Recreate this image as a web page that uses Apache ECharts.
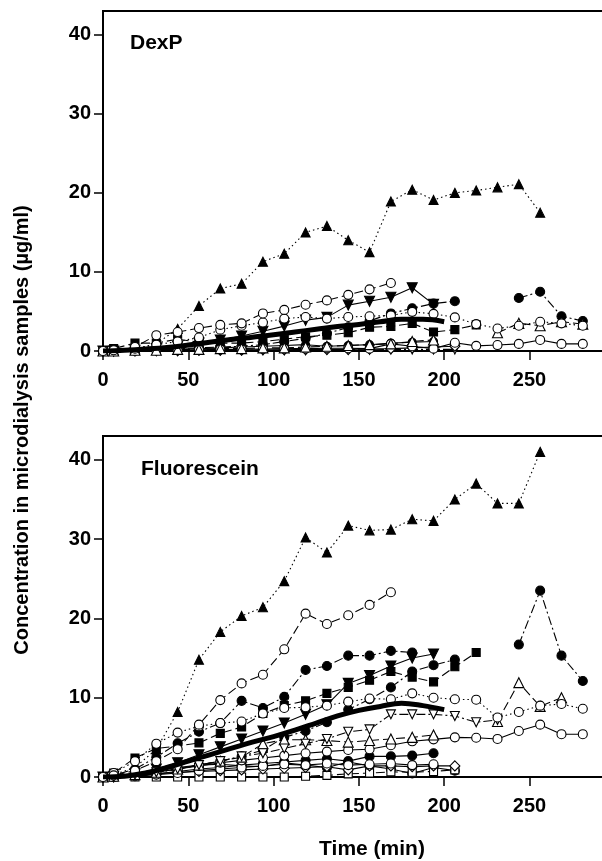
<!DOCTYPE html>
<html>
<head>
<meta charset="utf-8">
<script src="https://cdn.jsdelivr.net/npm/echarts@6/dist/echarts.min.js"></script>
<style>
html, body { margin: 0; padding: 0; background: #fff; }
#chart { width: 602px; height: 861px; }
</style>
</head>
<body>
<div id="chart"></div>
<script>
// sample times (min)
var times = [0, 6.25, 18.75, 31.25, 43.75, 56.25, 68.75, 81.25, 93.75, 106.25, 118.75, 131.25,
  143.75, 156.25, 168.75, 181.25, 193.75, 206.25, 218.75, 231.25, 243.75, 256.25, 268.75, 281.25]
var meanTimes = [0, 12.5, 25, 37.5, 50, 62.5, 75, 87.5, 100, 112.5, 125, 137.5, 150, 162.5, 175, 187.5, 200]
var xTicks = [0, 50, 100, 150, 200, 250]
var yTicks = [0, 10, 20, 30, 40]

// DexP panel
var dexTriUp = [0, 0.1, 0.3, 0.9, 2.8, 5.7, 7.9, 8.5, 11.3, 12.3, 15.0, 15.8, 14.0, 12.5, 18.9, 20.4, 19.1, 20.0, 20.3, 20.7, 21.1, 17.5, null, null]
var dexCircA = [0, 0.1, 0.5, 2.0, 2.4, 2.9, 3.3, 3.5, 4.75, 5.2, 5.85, 6.4, 7.1, 7.8, 8.6, null, null, null, null, null, null, null, null, null]
var dexCircB = [0, 0.1, 0.3, 0.8, 1.2, 1.7, 2.7, 3.2, 3.6, 4.1, 4.3, 4.1, 4.3, 4.4, 4.5, 4.95, 4.7, 4.25, 3.4, 2.85, 3.2, 3.7, 3.5, 3.2]
var dexTriDown = [0, 0, 0.1, 0.3, 0.6, 1.0, 1.4, 1.9, 2.5, 3.15, 3.9, 4.25, 5.8, 6.3, 6.8, 8.0, 5.9, null, null, null, null, null, null, null]
var dexSquare = [0, 0.3, 1.0, 1.0, 1.5, 1.1, 1.0, 1.0, 1.2, 1.5, 1.8, 2.0, 2.3, 3.0, 3.1, 3.5, 2.4, 2.7, 3.3, null, null, null, null, null]
var dexCircFilled = [0, 0, 0.1, 0.2, 0.3, 0.4, 0.5, 0.6, 0.8, 1.2, 1.6, 2.2, 3.0, 3.8, 4.75, 5.4, 6.0, 6.3, null, null, 6.7, 7.5, 4.4, 3.8]
var dexTriOpen = [0, 0, 0.1, 0.1, 0.2, 0.2, 0.3, 0.3, 0.4, 0.4, 0.5, 0.6, 0.7, 0.8, 0.9, 1.2, 1.4, null, null, 2.3, 3.5, 3.2, 3.7, 3.4]
var dexCircLow = [0, 0, 0.05, 0.1, 0.1, 0.15, 0.2, 0.2, 0.25, 0.3, 0.3, 0.35, 0.35, 0.3, 0.9, 0.6, 0.3, 1.05, 0.65, 0.75, 0.9, 1.4, 0.9, 0.9]
var dexDiamond = [0, 0, 0, 0.05, 0.05, 0.1, 0.1, 0.1, 0.15, 0.15, 0.2, 0.2, 0.2, 0.25, 0.3, 0.4, 0.5, 0.6, null, null, null, null, null, null]
var dexTriDownOpen = [0, 0, 0, 0, 0, 0.05, 0.05, 0.1, 0.1, 0.1, 0.1, 0.15, 0.15, 0.15, 0.2, 0.2, 0.2, 0.2, null, null, null, null, null, null]
var dexCircFilledLow = [0, 0, 0.05, 0.1, 0.2, 0.3, 0.4, 0.5, 0.6, 0.7, 0.8, 0.6, 0.7, 0.8, 1.0, 1.1, 1.2, null, null, null, null, null, null, null]
var dexMean = [0, 0.1, 0.25, 0.45, 0.75, 1.1, 1.45, 1.75, 2.05, 2.4, 2.75, 3.1, 3.35, 3.7, 4.0, 4.0, 3.7]

// Fluorescein panel
var fluTriUp = [0, 0.3, 1.2, 3.5, 8.2, 14.8, 18.3, 20.3, 21.4, 24.7, 30.2, 28.3, 31.7, 31.1, 31.2, 32.5, 32.3, 35.0, 37.0, 34.5, 34.5, 41.0, null, null]
var fluCircA = [0, 0.2, 0.8, 2.0, 3.5, 6.6, 9.7, 11.8, 12.9, 16.1, 20.6, 19.3, 20.4, 21.7, 23.3, null, null, null, null, null, null, null, null, null]
var fluCircB = [0, 0.5, 2.0, 4.2, 5.6, 6.4, 6.8, 7.0, 8.0, 8.7, 8.8, 9.0, 9.5, 9.9, 9.8, 10.55, 10.0, 9.8, 9.75, 7.5, 8.2, 9.0, 9.2, 8.6]
var fluCircFilledA = [0, 0.2, 1.0, 2.5, 4.25, 5.7, 6.8, 9.6, 8.7, 10.1, 13.5, 14.0, 15.3, 15.3, 15.9, 15.7, null, null, null, null, null, null, null, null]
var fluTriDown = [0, 0.1, 0.4, 1.0, 1.8, 2.8, 3.8, 4.8, 5.8, 6.8, 7.9, 9.1, 11.8, 12.8, 14.0, 15.0, 15.5, null, null, null, null, null, null, null]
var fluSquare = [0, 0.5, 2.4, 3.6, 3.9, 4.3, 5.5, 6.3, 8.0, 9.0, 9.6, 10.55, 11.3, 12.2, 13.3, 12.6, 12.0, 13.9, 15.7, null, null, null, null, null]
var fluCircFilledB = [0, 0.1, 0.3, 0.6, 1.0, 1.5, 2.0, 2.6, 3.4, 5.0, 5.8, 6.9, 8.5, 9.8, 11.3, 13.3, 14.1, 14.8, null, null, 16.7, 23.5, 15.3, 12.1]
var fluTriDownOpen = [0, 0, 0.3, 0.6, 1.0, 1.5, 2.0, 2.6, 3.0, 3.6, 4.2, 4.8, 5.7, 6.0, 7.9, 7.9, 7.9, 7.7, 6.9, 7.2, null, null, null, null]
var fluTriOpen = [0, 0.1, 0.3, 0.6, 1.0, 1.5, 2.0, 2.5, 4.2, 4.7, 4.7, 4.6, 4.4, 4.6, 4.8, 5.0, 5.3, null, null, 7.0, 11.9, 8.9, 10.0, null]
var fluCircLow = [0, 0, 0.3, 0.6, 1.0, 1.4, 1.8, 2.1, 2.4, 2.7, 3.0, 3.2, 3.4, 3.5, 4.0, 4.5, 4.75, 5.0, 4.95, 4.8, 5.8, 6.6, 5.4, 5.4]
var fluCircFilledLow1 = [0, 0, 0.2, 0.4, 0.7, 1.0, 1.2, 1.5, 1.7, 1.9, 2.1, 2.3, 2.0, 2.6, 2.6, 2.7, 3.0, null, null, null, null, null, null, null]
var fluCircFilledLow2 = [0, 0, 0.3, 0.8, 1.2, 1.5, 1.6, 1.4, 1.3, 1.8, 1.5, 1.2, 1.9, 1.4, 1.0, 0.45, 1.2, 0.8, null, null, null, null, null, null]
var fluDiamond = [0, 0, 0.2, 0.4, 0.6, 0.7, 0.8, 0.9, 1.0, 1.1, 1.2, 1.3, 0.9, 1.4, 1.4, 1.3, 1.4, 1.4, null, null, null, null, null, null]
var fluSquareOpen = [0, 0, 0, 0, 0, 0, 0, 0, 0, 0, 0.1, 0.2, 0.4, 0.5, 0.65, 0.6, 0.7, 0.9, null, null, null, null, null, null]
var fluCircOpenLow = [0, 0, 0.1, 0.3, 0.5, 0.8, 1.0, 1.2, 1.4, 1.6, 1.5, 1.7, 1.5, 1.6, 1.7, 1.5, 1.6, null, null, null, null, null, null, null]
var fluMean = [0, 0.1, 0.5, 1.2, 2.0, 2.8, 3.6, 4.4, 5.1, 5.9, 6.8, 7.7, 8.4, 8.9, 9.3, 9.0, 8.5]

var xMax = 292.5, yMax = 43
var triDown = "path://M0,0 L10,0 L5,9 Z"
var DOT = [1.5, 3], DASH = [9, 4], DASHDOT = [9, 3, 2, 3]

function pts(xs, ys) {
  return xs.map(function (x, i) { return [x, ys[i]] })
}

function line(values, grid, symbol, open, dash, size) {
  return {
    type: "line",
    xAxisIndex: grid,
    yAxisIndex: grid,
    data: pts(times, values),
    symbol: symbol,
    symbolSize: size || 8,
    connectNulls: false,
    clip: false,
    itemStyle: { color: open ? "#fff" : "#000", borderColor: "#000", borderWidth: 1.1 },
    lineStyle: { color: "#000", width: 1.1, type: dash },
    emphasis: { disabled: true },
    z: open ? 3 : 2,
  }
}

function meanLine(values, grid) {
  return {
    type: "line",
    xAxisIndex: grid,
    yAxisIndex: grid,
    data: pts(meanTimes, values),
    symbol: "none",
    smooth: 0.4,
    lineStyle: { color: "#000", width: 5 },
    emphasis: { disabled: true },
    z: 4,
  }
}

var series = [
  line(dexCircFilledLow, 0, "circle", false, "solid"),
  line(dexTriDownOpen, 0, triDown, true, DASHDOT, 9),
  line(dexDiamond, 0, "diamond", true, "solid", 10),
  line(dexCircLow, 0, "circle", true, "solid", 9),
  line(dexTriOpen, 0, "triangle", true, DASH, 10),
  line(dexSquare, 0, "rect", false, DASH, 8),
  line(dexTriDown, 0, triDown, false, "solid", 10),
  line(dexCircFilled, 0, "circle", false, DASHDOT, 9),
  line(dexCircB, 0, "circle", true, DOT, 9),
  line(dexCircA, 0, "circle", true, DASH, 9),
  line(dexTriUp, 0, "triangle", false, DOT, 9),
  meanLine(dexMean, 0),

  line(fluSquareOpen, 1, "rect", true, DASH, 8),
  line(fluDiamond, 1, "diamond", true, "solid", 10),
  line(fluCircOpenLow, 1, "circle", true, "solid", 9),
  line(fluCircFilledLow2, 1, "circle", false, "solid", 9),
  line(fluCircFilledLow1, 1, "circle", false, "solid", 9),
  line(fluCircLow, 1, "circle", true, "solid", 9),
  line(fluTriOpen, 1, "triangle", true, DASH, 10),
  line(fluTriDownOpen, 1, triDown, true, DASHDOT, 9),
  line(fluCircFilledB, 1, "circle", false, DASHDOT, 9),
  line(fluSquare, 1, "rect", false, DASH, 8),
  line(fluTriDown, 1, triDown, false, "solid", 10),
  line(fluCircFilledA, 1, "circle", false, DASHDOT, 9),
  line(fluCircB, 1, "circle", true, DOT, 9),
  line(fluCircA, 1, "circle", true, DASH, 9),
  line(fluTriUp, 1, "triangle", false, DOT, 9),
  meanLine(fluMean, 1),
]

var labelFont = { color: "#000", fontFamily: "Arial", fontWeight: "bold", fontSize: 20 }

function xAxisFor(grid) {
  return {
    type: "value", gridIndex: grid, min: 0, max: xMax, interval: 50,
    axisLine: { show: true, onZero: false, lineStyle: { color: "#000", width: 2 } },
    axisTick: { show: true, inside: false, length: 9, customValues: xTicks,
      lineStyle: { color: "#000", width: 1.5 } },
    axisLabel: Object.assign({ margin: 19, customValues: xTicks }, labelFont),
    splitLine: { show: false },
  }
}

function yAxisFor(grid) {
  return {
    type: "value", gridIndex: grid, min: 0, max: yMax, interval: 10,
    axisLine: { show: true, lineStyle: { color: "#000", width: 2 } },
    axisTick: { show: true, inside: false, length: 9, customValues: yTicks,
      lineStyle: { color: "#000", width: 1.5 } },
    axisLabel: Object.assign({ margin: 12, customValues: yTicks }, labelFont),
    splitLine: { show: false },
  }
}

var myChart = echarts.init(document.getElementById("chart"))
myChart.setOption({
  animation: false,
  backgroundColor: "#fff",
  grid: [
    { left: 103, top: 11, width: 499, height: 340 },
    { left: 103, top: 436, width: 499, height: 341 },
  ],
  xAxis: [xAxisFor(0), xAxisFor(1)],
  yAxis: [yAxisFor(0), yAxisFor(1)],
  series: series,
})

// top frame line of each panel, placed from the axis scales
var frames = [0, 1].map(function (g) {
  var a = myChart.convertToPixel({ gridIndex: g }, [0, yMax])
  var b = myChart.convertToPixel({ gridIndex: g }, [xMax, yMax])
  return { type: "line", shape: { x1: a[0] - 1, y1: a[1], x2: b[0], y2: b[1] },
    style: { stroke: "#000", lineWidth: 2 }, z: 10 }
})

myChart.setOption({
  graphic: frames.concat([
    { type: "text", left: 130, top: 33, style: { text: "DexP", fill: "#000", font: "bold 21px Arial" } },
    { type: "text", left: 141, top: 459, style: { text: "Fluorescein", fill: "#000", font: "bold 21px Arial" } },
    { type: "text", x: 22, y: 430, rotation: Math.PI / 2,
      style: { text: "Concentration in microdialysis samples (µg/ml)", fill: "#000",
        font: "bold 20px Arial", textAlign: "center", textVerticalAlign: "middle" } },
    { type: "text", x: 372, y: 849,
      style: { text: "Time (min)", fill: "#000", font: "bold 21px Arial",
        textAlign: "center", textVerticalAlign: "middle" } },
  ]),
})
</script>
</body>
</html>
